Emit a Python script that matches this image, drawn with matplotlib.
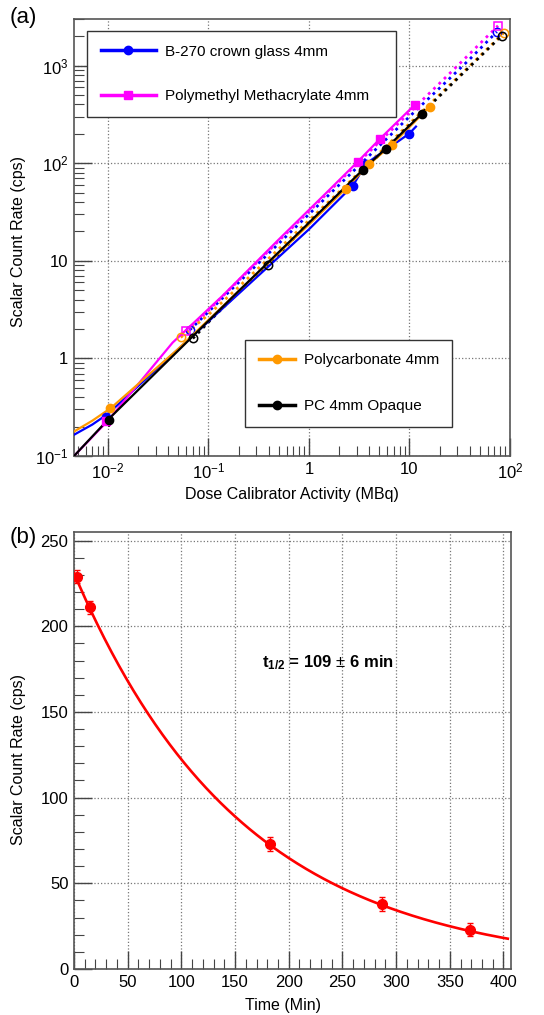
import matplotlib
matplotlib.use('Agg')
import matplotlib.pyplot as plt
import numpy as np
from matplotlib.ticker import FixedLocator, MultipleLocator, LogLocator, NullFormatter

plt.rcParams['font.family'] = ['Liberation Sans', 'DejaVu Sans']
plt.rcParams['mathtext.fontset'] = 'custom'
plt.rcParams['mathtext.rm'] = 'Liberation Sans'
plt.rcParams['mathtext.it'] = 'Liberation Sans:italic'
plt.rcParams['mathtext.bf'] = 'Liberation Sans:bold'

# ---- panel (a): count rate vs activity ----
materials = ['B-270 crown glass 4mm', 'Polymethyl Methacrylate 4mm',
             'Polycarbonate 4mm', 'PC 4mm Opaque']
colors = ['#0000ff', '#ff00ff', '#ff9900', '#000000']
filled_markers = ['o', 's', 'o', 'o']

# solid lines (measured, first set)
solid_x = [
    [0.0046, 0.007, 0.01, 0.044, 0.2, 1.0, 2.74, 3.7, 9.9, 11.6],
    [0.0046, 0.01, 0.044, 0.139, 0.5, 1.5, 3.07, 5.1, 11.3],
    [0.0046, 0.007, 0.0107, 0.05, 0.2, 1.0, 2.33, 3.95, 6.7, 15.9],
    [0.0046, 0.01, 0.05, 0.2, 1.0, 3.45, 5.8, 13.3],
]
solid_y = [
    [0.165, 0.21, 0.27, 1.1, 4.6, 21.0, 59, 99, 200, 237],
    [0.10, 0.23, 1.45, 4.4, 16.5, 50, 104, 178, 397],
    [0.178, 0.23, 0.31, 1.25, 4.9, 23.5, 55, 97, 155, 380],
    [0.10, 0.235, 1.2, 4.9, 24.5, 86, 141, 322],
]
# filled markers (subset of the solid points)
pts_x = [
    [0.0095, 2.74, 3.7, 9.9],
    [0.0095, 3.07, 5.1, 11.3],
    [0.0105, 2.33, 3.95, 6.7, 15.9],
    [0.0102, 3.45, 5.8, 13.3],
]
pts_y = [
    [0.25, 59, 99, 200],
    [0.23, 104, 178, 397],
    [0.31, 55, 97, 155, 380],
    [0.235, 86, 141, 322],
]
pts_err = [0.02, 0.02, 0.03, 0.035]

# dotted lines (second set, open markers)
dot_x = [
    [0.065, 0.1, 0.2, 0.5, 1, 2, 5, 10, 20, 40, 74],
    [0.06, 0.1, 0.2, 0.5, 1, 2, 5, 10, 20, 40, 76],
    [0.053, 0.1, 0.2, 0.5, 1, 2, 5, 10, 20, 40, 87],
    [0.07, 0.1, 0.2, 0.39, 1, 2, 5, 10, 20, 40, 83],
]
dot_y = [
    [1.95, 3.0, 6.0, 15, 30, 60, 150, 300, 590, 1170, 2220],
    [1.9, 3.1, 6.3, 16, 32, 65, 165, 330, 660, 1330, 2560],
    [1.64, 2.8, 5.4, 13.2, 26, 51, 127, 255, 505, 1000, 2170],
    [1.6, 2.35, 4.8, 9.0, 24.5, 49, 122, 245, 490, 980, 2030],
]
open_idx = [[0, -1], [0, -1], [0, -1], [0, 3, -1]]

xa_ticks = [0.01, 0.1, 1, 10, 100]
xa_labels = ['$10^{-2}$', '$10^{-1}$', '1', '10', '$10^{2}$']
ya_ticks = [0.1, 1, 10, 100, 1000]
ya_labels = ['$10^{-1}$', '1', '10', '$10^{2}$', '$10^{3}$']

# ---- panel (b): decay ----
time_min = [3, 15, 183, 287, 369]
rate_cps = [229, 211, 73, 38, 23]
rate_err = [4, 4, 4, 4, 4]
fit_a0 = 231.0
fit_thalf = 109.0

fig = plt.figure(figsize=(5.44, 10.15), dpi=100)
ax1 = fig.add_axes([74 / 544, 1 - 456 / 1015, 436 / 544, 437 / 1015])
ax2 = fig.add_axes([74 / 544, 1 - 969 / 1015, 437 / 544, 437 / 1015])

frame_col = '#555555'

for i in range(4):
    c = colors[i]
    ax1.plot(dot_x[i], dot_y[i], ':', color=c, lw=2.0, zorder=2)
    ox = [dot_x[i][k] for k in open_idx[i]]
    oy = [dot_y[i][k] for k in open_idx[i]]
    ax1.plot(ox, oy, linestyle='none', marker='s' if i == 1 else 'o', ms=6,
             mfc='none', mec=c, mew=1.1, zorder=3)
    ax1.plot(solid_x[i], solid_y[i], '-', color=c, lw=1.6, zorder=3)
    ax1.errorbar(pts_x[i], pts_y[i], yerr=pts_err[i], fmt=filled_markers[i], color=c,
                 ms=6, elinewidth=1.2, capsize=0, zorder=4)

ax1.set_xscale('log')
ax1.set_yscale('log')
ax1.set_xlim(0.0046, 100)
ax1.set_ylim(0.1, 3000)
ax1.xaxis.set_major_locator(FixedLocator(xa_ticks))
ax1.xaxis.set_ticklabels(xa_labels)
ax1.yaxis.set_major_locator(FixedLocator(ya_ticks))
ax1.yaxis.set_ticklabels(ya_labels)
ax1.xaxis.set_minor_locator(LogLocator(base=10, subs=np.arange(2, 10)))
ax1.yaxis.set_minor_locator(LogLocator(base=10, subs=np.arange(2, 10)))
ax1.xaxis.set_minor_formatter(NullFormatter())
ax1.yaxis.set_minor_formatter(NullFormatter())
ax1.set_xlabel('Dose Calibrator Activity (MBq)', fontsize=11.5, labelpad=4)
ax1.set_ylabel('Scalar Count Rate (cps)', fontsize=11.5)
ax1.yaxis.set_label_coords(-0.11, 0.49)

# legends
h = []
for i in range(4):
    line, = ax1.plot([], [], '-', color=colors[i], lw=2.5, marker=filled_markers[i], ms=6)
    h.append(line)
leg1 = ax1.legend(h[:2], materials[:2], loc='lower left', mode='expand',
                  bbox_to_anchor=(0.03, 0.776, 0.709, 0.21), fontsize=11,
                  frameon=True, fancybox=False, edgecolor='#333333', framealpha=1,
                  labelspacing=2.0, borderpad=0.9, handlelength=3.6, handletextpad=0.6,
                  borderaxespad=0)
leg1.get_frame().set_linewidth(1.0)
ax1.add_artist(leg1)
leg2 = ax1.legend(h[2:], materials[2:], loc='lower left', mode='expand',
                  bbox_to_anchor=(0.392, 0.066, 0.475, 0.218), fontsize=11,
                  frameon=True, fancybox=False, edgecolor='#333333', framealpha=1,
                  labelspacing=2.1, borderpad=0.9, handlelength=2.4, handletextpad=0.6,
                  borderaxespad=0)
leg2.get_frame().set_linewidth(1.0)

# panel b
tt = np.linspace(0, 404, 300)
ax2.plot(tt, fit_a0 * np.exp(-np.log(2) * tt / fit_thalf), '-', color='#ff0000', lw=1.9, zorder=3)
ax2.errorbar(time_min, rate_cps, yerr=rate_err, fmt='o', color='#ff0000', ms=7,
             elinewidth=1.0, capsize=2, zorder=4)
ax2.set_xlim(0, 407)
ax2.set_ylim(0, 255)
ax2.xaxis.set_major_locator(MultipleLocator(50))
ax2.xaxis.set_minor_locator(MultipleLocator(10))
ax2.yaxis.set_major_locator(MultipleLocator(50))
ax2.yaxis.set_minor_locator(MultipleLocator(10))
ax2.set_xlabel('Time (Min)', fontsize=11.5, labelpad=4)
ax2.xaxis.set_label_coords(0.479, -0.066)
ax2.set_ylabel('Scalar Count Rate (cps)', fontsize=11.5)
ax2.yaxis.set_label_coords(-0.11, 0.48)
ax2.text(175, 179, r'$\mathbf{t_{1/2}}$ = 109 $\pm$ 6 min', fontsize=12, fontweight='bold',
         va='center', ha='left')

for ax in (ax1, ax2):
    ax.grid(True, which='major', linestyle=':', color='#777777', lw=0.9)
    ax.tick_params(which='both', direction='in', top=False, right=False,
                   labelsize=12, color='#444444')
    ax.tick_params(which='major', length=13, width=1.0, pad=4)
    ax.tick_params(which='minor', length=7, width=0.8)
    for s in ax.spines.values():
        s.set_color(frame_col)
        s.set_linewidth(1.2)
    ax.set_axisbelow(True)

fig.text(10 / 544, 1 - 18 / 1015, '(a)', fontsize=16, va='center', ha='left')
fig.text(10 / 544, 1 - 538 / 1015, '(b)', fontsize=16, va='center', ha='left')

fig.savefig('out.png', dpi=100)
